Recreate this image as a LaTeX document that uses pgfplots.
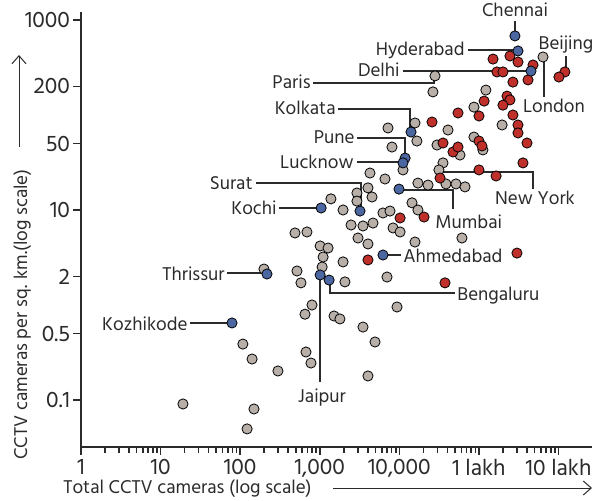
\documentclass[border=0pt]{standalone}
\usepackage{pgfplots}
\pgfplotsset{compat=1.18}
\usepackage{pgfplotstable}
\usepackage{fontspec}
\setmainfont{Hind Madurai}
\usetikzlibrary{arrows.meta}

\definecolor{dotgray}{HTML}{B8AFA9}
\definecolor{dotred}{HTML}{C0302A}
\definecolor{dotblue}{HTML}{4B67A1}
\definecolor{ink}{HTML}{2B2B2B}

% position in reference pixels (606x500) -> axis description cs
\newcommand{\px}[2]{(axis description cs:{(#1-81)/511},{(447-#2)/435})}

% other cities (gray)
\pgfplotstableread{
x y
28000 258
26400 175
637000 408
122000 183
86500 121
195000 78.5
40800 69.5
15700 82.4
16600 53.2
7190 73
8070 46.0
86500 58.6
112000 42.9
29700 48.3
57700 37.9
11100 26.4
35300 31.3
31400 26.4
4270 24.5
6590 21.2
17100 19.2
22900 18.3
38500 18.8
51400 18.8
66700 17.5
2930 15.1
4030 17.1
4530 13.7
1380 13.1
1960 10
2930 12.4
6220 9.3
7620 9.75
14400 11.9
17100 10
2470 6.95
3490 6.79
4660 7.29
8320 6.47
10200 5.87
15700 4.60
61100 5.07
3020 5.07
4030 4.39
488 5.73
690 5.87
1010 4.18
1270 3.98
1100 3.20
1960 2.84
1070 2.51
517 2.28
199 2.39
580 1.71
2070 1.75
6990 1.97
798 1.00
652 0.80
1510 0.766
1790 0.713
9330 0.953
3490 0.586
4940 0.408
671 0.320
775 0.245
4030 0.179
108 0.388
141 0.270
298 0.202
19.1 0.0908
149 0.0804
122 0.0496
}\grayData

% red cities
\pgfplotstableread{
x y
150000 388
245000 418
309000 361
477000 336
168000 284
200000 284
413000 234
267000 222
1200000 284
1010000 251
116000 140
225000 158
245000 144
200000 127
54500 105
100000 97.6
25700 84.4
267000 100
309000 78.5
309000 64.7
401000 50.7
35300 50.7
100000 53.2
109000 47.2
47100 40.8
54500 46.0
357000 31.3
100000 26.4
164000 22.8
32400 21.7
10200 8.24
20400 8.43
4030 2.98
300000 3.52
37400 1.71
}\redData

% Indian cities (blue)
\pgfplotstableread{
x y
283000 680
309000 472
450000 290
14000 66.2
11800 35.2
11100 31.3
3200 9.75
1040 10.5
9890 16.6
6220 3.36
1010 2.07
1310 1.83
217 2.12
78.9 0.647
}\blueData

\begin{document}
\fontsize{9.5}{11}\selectfont
\begin{tikzpicture}
\begin{axis}[
  scale only axis,
  width=255.5pt, height=217.5pt,
  xmode=log, ymode=log,
  xmin=1, xmax=2.63e6,
  ymin=0.032, ymax=1214,
  axis lines*=left,
  axis line style={ink, line width=0.9pt},
  tick style={ink, line width=0.8pt},
  tick align=outside,
  major tick length=3.8pt,
  minor xtick={}, minor ytick={},
  xtick={1,10,100,1000,10000,100000,1000000},
  xticklabels={1,10,100,{1,000},{10,000},1 lakh,10 lakh},
  ytick={0.1,0.5,2,10,50,200,1000},
  yticklabels={0.1,0.5,2,10,50,200,1000},
  tick label style={text=ink, font=\fontsize{11.5}{13}\selectfont},
  yticklabel style={inner sep=1.5pt},
  xticklabel style={inner sep=2pt},
  clip=false,
]
\path \px{0}{0} rectangle \px{606}{500};

\addplot[only marks, mark=*, mark size=2.55pt, mark options={draw=none, fill=dotgray}] table {\grayData};
\addplot[only marks, mark=*, mark size=2.55pt, mark options={draw=none, fill=dotred}] table {\redData};
\addplot[only marks, mark=*, mark size=2.55pt, mark options={draw=none, fill=dotblue}] table {\blueData};

% leader lines
\begin{scope}[ink, line width=0.6pt]
\draw \px{515}{21} -- \px{515}{31};
\draw \px{468}{50} -- \px{513}{50};
\draw \px{403}{71} -- \px{527}{71};
\draw \px{313}{83} -- \px{434}{83} -- \px{434}{79};
\draw \px{338}{109} -- \px{410}{109} -- \px{410}{127};
\draw \px{357}{138} -- \px{405}{138} -- \px{405}{154};
\draw \px{357}{162} -- \px{400}{162};
\draw \px{256}{183} -- \px{361}{183} -- \px{361}{206};
\draw \px{279}{208} -- \px{317}{208};
\draw \px{402}{190} -- \px{453}{190} -- \px{453}{209};
\draw \px{442}{172} -- \px{533}{172} -- \px{533}{189};
\draw \px{387}{255} -- \px{401}{255};
\draw \px{330}{283} -- \px{330}{293} -- \px{455}{293};
\draw \px{320}{279} -- \px{320}{382};
\draw \px{227}{273} -- \px{263}{273};
\draw \px{190}{323} -- \px{228}{323};
\draw \px{544}{62} -- \px{544}{97};
\draw \px{566}{56} -- \px{566}{67};
\end{scope}

% city labels
\begin{scope}[every node/.style={text=ink, inner sep=0pt}]
\node[anchor=base] at \px{515}{17} {Chennai};
\node[anchor=base east] at \px{465}{56} {Hyderabad};
\node[anchor=base east] at \px{400}{77} {Delhi};
\node[anchor=base east] at \px{311}{89} {Paris};
\node[anchor=base east] at \px{336}{115} {Kolkata};
\node[anchor=base east] at \px{355}{144} {Pune};
\node[anchor=base east] at \px{354}{168} {Lucknow};
\node[anchor=base east] at \px{253}{189} {Surat};
\node[anchor=base east] at \px{277}{214} {Kochi};
\node[anchor=base west] at \px{435}{228} {Mumbai};
\node[anchor=base] at \px{535}{205} {New York};
\node[anchor=base west] at \px{403}{262} {Ahmedabad};
\node[anchor=base west] at \px{457}{300} {Bengaluru};
\node[anchor=base] at \px{322}{402} {Jaipur};
\node[anchor=base east] at \px{225}{280} {Thrissur};
\node[anchor=base east] at \px{188}{330} {Kozhikode};
\node[anchor=base] at \px{554}{113} {London};
\node[anchor=base] at \px{566}{50} {Beijing};
\end{scope}

% axis titles with arrows
\node[anchor=base west, inner sep=0pt, text=ink] at \px{63}{493} {Total CCTV cameras (log scale)};
\draw[ink, line width=0.5pt, -{Straight Barb[length=4pt, width=7pt]}] \px{333}{488} -- \px{592}{488};
\node[anchor=base west, rotate=90, inner sep=0pt, text=ink] at \px{27}{460} {CCTV cameras per sq. km.(log scale)};
\draw[ink, line width=0.5pt, -{Straight Barb[length=4pt, width=7pt]}] \px{19}{147} -- \px{19}{55};
\end{axis}
\end{tikzpicture}
\end{document}
